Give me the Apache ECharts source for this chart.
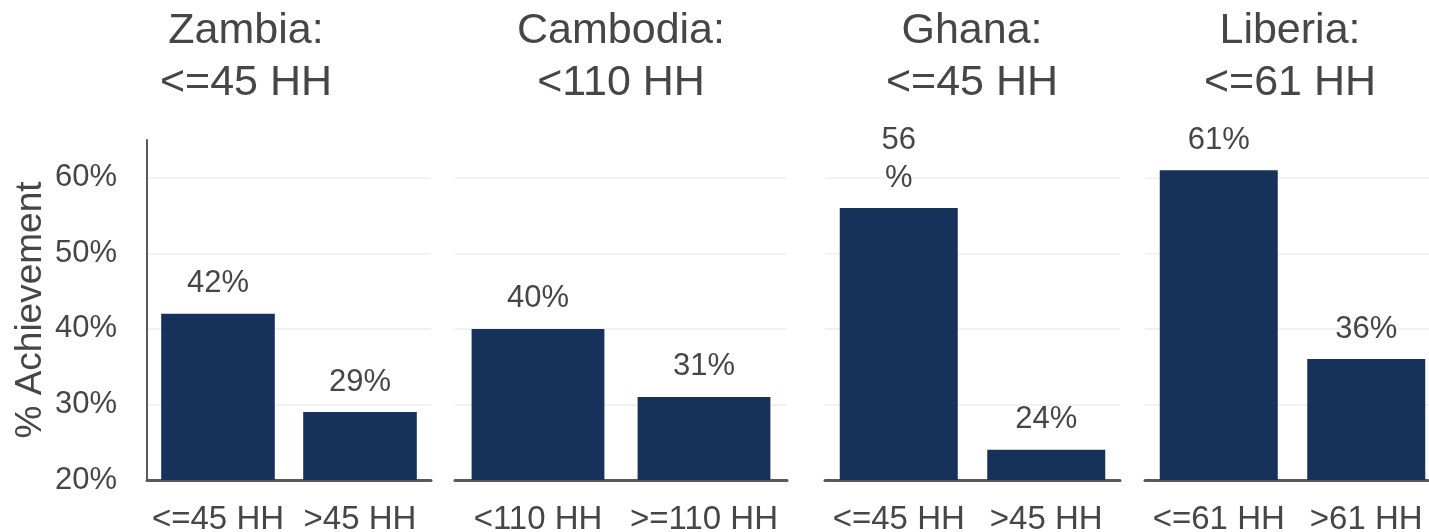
<!DOCTYPE html>
<html>
<head>
<meta charset="utf-8">
<script src="https://cdn.jsdelivr.net/npm/echarts@6/dist/echarts.min.js"></script>
<style>
  html, body { margin: 0; padding: 0; background: #fff; }
  #chart { width: 1429px; height: 532px; }
</style>
</head>
<body>
<div id="chart"></div>
<script>
// panel titles
const panelTitles = ['Zambia:\n<=45 HH', 'Cambodia:\n<110 HH', 'Ghana:\n<=45 HH', 'Liberia:\n<=61 HH']
// bar categories per panel
const categories = [
  ['<=45 HH', '>45 HH'],
  ['<110 HH', '>=110 HH'],
  ['<=45 HH', '>45 HH'],
  ['<=61 HH', '>61 HH']
]
// % achievement per panel
const values = [
  [42, 29],
  [40, 31],
  [56, 24],
  [61, 36]
]
// labels that wrap onto two lines in the original
const wrapped = [
  [false, false],
  [false, false],
  [true, false],
  [false, false]
]
const yTicks = [20, 30, 40, 50, 60]

const textColor = '#464646'
const barColor = '#17325A'
const fontFamily = 'Liberation Sans, Arial, sans-serif'

// panel boxes (px)
const panels = [
  { left: 147, width: 284, titleX: 246 },
  { left: 455, width: 332, titleX: 621 },
  { left: 825, width: 295, titleX: 972 },
  { left: 1145, width: 295, titleX: 1290 }
]

const chart = echarts.init(document.getElementById('chart'))

const grid = panels.map(p => ({
  left: p.left, width: p.width, top: 140, bottom: 52,
  outerBoundsMode: 'none', containLabel: false
}))

const xAxis = categories.map((cats, i) => ({
  type: 'category',
  gridIndex: i,
  data: cats,
  axisTick: { show: false },
  axisLine: { lineStyle: { color: '#595959', width: 3 } },
  axisLabel: { color: textColor, fontSize: 33, fontFamily, margin: 23, interval: 0 }
}))

const yAxis = values.map((v, i) => ({
  type: 'value',
  gridIndex: i,
  min: yTicks[0],
  max: 65,
  interval: 10,
  name: i === 0 ? '% Achievement' : '',
  nameLocation: 'middle',
  nameGap: 98,
  nameTextStyle: { color: textColor, fontSize: 37, fontFamily },
  axisLine: { show: i === 0, lineStyle: { color: '#595959', width: 2 } },
  axisTick: { show: false },
  axisLabel: {
    show: i === 0,
    color: textColor,
    fontSize: 31,
    fontFamily,
    margin: 30,
    showMaxLabel: false,
    formatter: val => yTicks.includes(val) ? val + '%' : ''
  },
  splitLine: { show: true, showMaxLine: false, lineStyle: { color: '#f2f2f2', width: 2 } }
}))

const series = values.map((v, i) => ({
  type: 'bar',
  xAxisIndex: i,
  yAxisIndex: i,
  barCategoryGap: '20%',
  data: v,
  itemStyle: { color: barColor },
  label: {
    show: true,
    position: 'top',
    distance: 11,
    color: textColor,
    fontSize: 31,
    fontFamily,
    lineHeight: 38,
    formatter: p => wrapped[i][p.dataIndex] ? p.value + '\n%' : p.value + '%'
  }
}))

const graphic = panelTitles.map((t, i) => ({
  type: 'text',
  x: panels[i].titleX,
  y: 5,
  style: {
    text: t,
    textAlign: 'center',
    textVerticalAlign: 'top',
    fill: textColor,
    fontSize: 43,
    fontFamily,
    lineHeight: 52
  }
}))

chart.setOption({
  animation: false,
  grid,
  xAxis,
  yAxis,
  series,
  graphic
})
</script>
</body>
</html>
